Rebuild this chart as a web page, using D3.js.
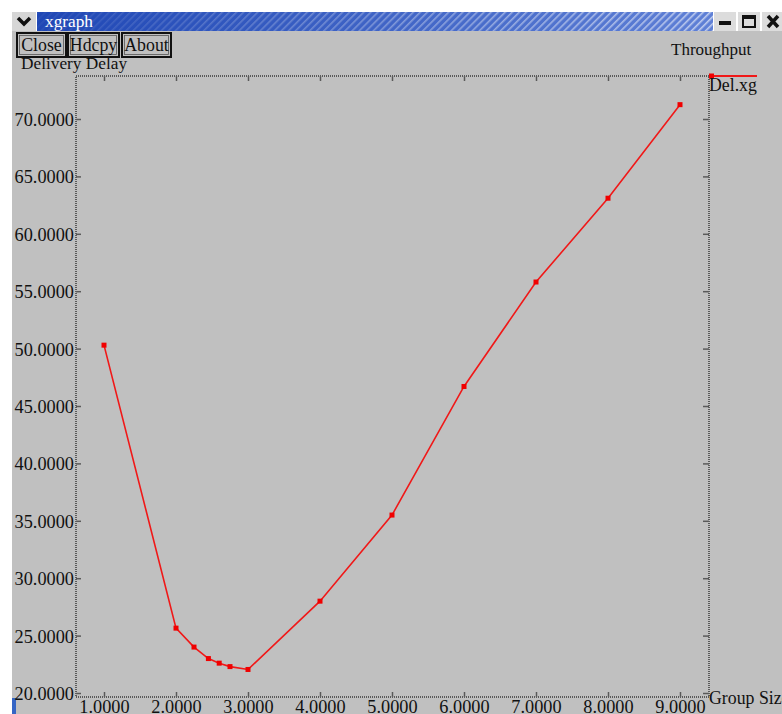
<!DOCTYPE html>
<html>
<head>
<meta charset="utf-8">
<script src="https://cdn.jsdelivr.net/npm/d3@7"></script>
<style>
  body { margin: 0; background: #fff; }
  svg { display: block; font-family: "Liberation Serif", "Times New Roman", serif; }
</style>
</head>
<body>
<svg id="chart" width="782" height="714"></svg>
<script>
// values
const groupSize = [1, 2, 2.25, 2.45, 2.6, 2.75, 3, 4, 5, 6, 7, 8, 9];
const delay = [50.3, 25.65, 24.0, 23.0, 22.6, 22.3, 22.05, 28.0, 35.5, 46.7, 55.8, 63.1, 71.25];
const xTicks = [1, 2, 3, 4, 5, 6, 7, 8, 9];
const yTicks = [20, 25, 30, 35, 40, 45, 50, 55, 60, 65, 70];
const buttons = ['Close', 'Hdcpy', 'About'];

const svg = d3.select('#chart');
const W = 782, H = 714;
const frame = { left: 76, top: 76, right: 709, bottom: 697 };
const fmt = d3.format('.4f');

const defs = svg.append('defs');
const grad = defs.append('linearGradient').attr('id', 'titleGrad');
grad.append('stop').attr('offset', '0%').attr('stop-color', '#1f47b5');
grad.append('stop').attr('offset', '100%').attr('stop-color', '#5f80d6');
const hatch = defs.append('pattern')
  .attr('id', 'hatch')
  .attr('patternUnits', 'userSpaceOnUse')
  .attr('width', 5).attr('height', 5)
  .attr('patternTransform', 'rotate(45)');
hatch.append('rect').attr('width', 1.6).attr('height', 5).attr('fill', '#ffffff');
const fadeGrad = defs.append('linearGradient').attr('id', 'fadeGrad');
fadeGrad.append('stop').attr('offset', '0%').attr('stop-color', '#fff').attr('stop-opacity', 0.05);
fadeGrad.append('stop').attr('offset', '100%').attr('stop-color', '#fff').attr('stop-opacity', 0.6);
const mask = defs.append('mask').attr('id', 'fadeMask');
mask.append('rect').attr('x', 37).attr('y', 12).attr('width', 676).attr('height', 19).attr('fill', 'url(#fadeGrad)');

// window body
svg.append('rect').attr('x', 12).attr('y', 31).attr('width', W - 12).attr('height', H - 31).attr('fill', '#c0c0c0');
svg.append('rect').attr('x', 12).attr('y', 698).attr('width', 4).attr('height', 16).attr('fill', '#3565c5');

// title bar
const bar = svg.append('g');
bar.append('rect').attr('x', 12).attr('y', 12).attr('width', 24).attr('height', 19).attr('fill', '#d6d6d6');
bar.append('path')
  .attr('d', 'M18,18 L24,24 L30,18')
  .attr('fill', 'none').attr('stroke', '#111').attr('stroke-width', 3.5);
bar.append('rect').attr('x', 37).attr('y', 12).attr('width', 676).attr('height', 19).attr('fill', 'url(#titleGrad)');
bar.append('rect').attr('x', 37).attr('y', 12).attr('width', 676).attr('height', 19)
  .attr('fill', 'url(#hatch)').attr('mask', 'url(#fadeMask)');
bar.append('text').attr('x', 45).attr('y', 26.5)
  .attr('font-size', 17.3).attr('fill', '#fff').text('xgraph');

// window buttons
const wb = bar.append('g');
[[714, 22], [738, 22], [762, 20]].forEach(([x, w]) => {
  wb.append('rect').attr('x', x).attr('y', 12).attr('width', w).attr('height', 19).attr('fill', '#dcdcdc');
});
wb.append('rect').attr('x', 719).attr('y', 21).attr('width', 12).attr('height', 4).attr('fill', '#111');
wb.append('rect').attr('x', 743).attr('y', 16).attr('width', 12).attr('height', 11)
  .attr('fill', 'none').attr('stroke', '#111').attr('stroke-width', 2);
wb.append('rect').attr('x', 743).attr('y', 16).attr('width', 12).attr('height', 3).attr('fill', '#111');
wb.append('path').attr('d', 'M768,16 L778,27 M778,16 L768,27')
  .attr('stroke', '#111').attr('stroke-width', 3.5);

// xgraph buttons
const btn = svg.append('g').selectAll('g')
  .data(buttons)
  .enter().append('g')
  .attr('transform', (d, i) => `translate(${[17, 68, 122][i]},33)`);
btn.append('rect')
  .attr('width', (d, i) => [49, 51, 49][i]).attr('height', 24)
  .attr('fill', 'none').attr('stroke', '#111').attr('stroke-width', 2);
btn.append('rect')
  .attr('x', 2.5).attr('y', 2.5)
  .attr('width', (d, i) => [44, 46, 44][i]).attr('height', 19)
  .attr('fill', 'none').attr('stroke', '#555').attr('stroke-width', 0.8);
btn.append('text')
  .attr('x', (d, i) => [49, 51, 49][i] / 2).attr('y', 17.5)
  .attr('text-anchor', 'middle').attr('font-size', 17.8).attr('fill', '#111')
  .text(d => d);

svg.append('text').attr('x', 21).attr('y', 68.5).attr('font-size', 17.3).attr('fill', '#111').text('Delivery Delay');
svg.append('text').attr('x', 671).attr('y', 54.5).attr('font-size', 17).attr('fill', '#111').text('Throughput');

// scales
const x = d3.scaleLinear()
  .domain([1 - 28 / 72, 9 + 29 / 72])
  .range([frame.left, frame.right]);
const y = d3.scaleLinear()
  .domain([20 - 4 / 11.48, 70 + 43 / 11.48])
  .range([frame.bottom, frame.top]);

// frame
svg.append('rect')
  .attr('x', frame.left).attr('y', frame.top)
  .attr('width', frame.right - frame.left).attr('height', frame.bottom - frame.top)
  .attr('fill', 'none').attr('stroke', '#5a5a5a').attr('stroke-width', 2)
  .attr('stroke-dasharray', '1 1');

function styleAxis(g) {
  g.select('.domain').remove();
  g.selectAll('.tick line').attr('stroke', '#5a5a5a').attr('stroke-width', 1.5);
  g.selectAll('.tick text')
    .attr('fill', '#111')
    .attr('font-size', 18.3)
    .attr('font-family', '"Liberation Serif", "Times New Roman", serif');
}

svg.append('g')
  .attr('transform', `translate(${frame.left},0)`)
  .call(d3.axisLeft(y).tickValues(yTicks).tickSize(-5).tickPadding(2).tickFormat(fmt))
  .call(styleAxis)
  .selectAll('.tick text').attr('dy', '0.36em');

svg.append('g')
  .attr('transform', `translate(${frame.right},0)`)
  .call(d3.axisRight(y).tickValues(yTicks).tickSize(-6).tickFormat(''))
  .call(styleAxis);

svg.append('g')
  .attr('transform', `translate(0,${frame.bottom})`)
  .call(d3.axisBottom(x).tickValues(xTicks).tickSize(-5).tickPadding(3.5).tickFormat(fmt))
  .call(styleAxis);

svg.append('g')
  .attr('transform', `translate(0,${frame.top})`)
  .call(d3.axisTop(x).tickValues(xTicks).tickSize(-5).tickFormat(''))
  .call(styleAxis);

svg.append('text').attr('x', 709).attr('y', 703.5).attr('font-size', 17.8).attr('fill', '#111').text('Group Size');

// data
const points = groupSize.map((g, i) => ({ g, d: delay[i] }));
const line = d3.line().x(p => x(p.g)).y(p => y(p.d));

svg.append('path')
  .datum(points)
  .attr('d', line)
  .attr('fill', 'none')
  .attr('stroke', '#f01818')
  .attr('stroke-width', 1.6);

svg.append('g').selectAll('rect')
  .data(points)
  .enter().append('rect')
  .attr('x', p => x(p.g) - 2.5)
  .attr('y', p => y(p.d) - 2.5)
  .attr('width', 5).attr('height', 5)
  .attr('fill', '#f00000');

// legend
svg.append('line')
  .attr('x1', 710).attr('x2', 757).attr('y1', 76).attr('y2', 76)
  .attr('stroke', '#f01818').attr('stroke-width', 2);
svg.append('rect').attr('x', 709).attr('y', 73.5).attr('width', 5).attr('height', 5).attr('fill', '#f00000');
svg.append('text').attr('x', 709).attr('y', 91).attr('font-size', 17.8).attr('fill', '#111').text('Del.xg');
</script>
</body>
</html>
